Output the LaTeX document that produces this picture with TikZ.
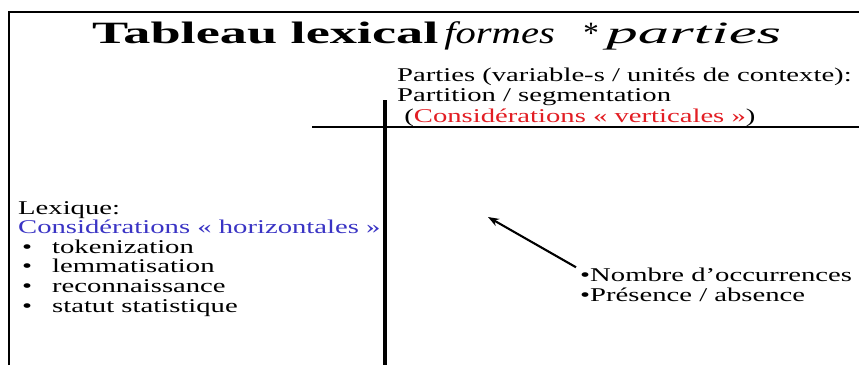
\documentclass[tikz,border=0pt]{standalone}
\usepackage{fontspec}
\setmainfont[FakeStretch=1.47]{Liberation Serif}
\newfontfamily\titlefont{Liberation Serif}
\usepackage{xcolor}
\usetikzlibrary{arrows.meta, positioning}

\definecolor{vertred}{RGB}{226,30,36}
\definecolor{horizblue}{RGB}{58,52,196}

\begin{document}
\begin{tikzpicture}[
  x=1pt, y=-1pt,
  txt/.style={inner sep=0pt, anchor=base west, align=left,
             font=\fontsize{19.5}{20.5}\selectfont},
  frame/.style={line width=2pt, black},
  axis/.style={line width=3.5pt, black},
  rule/.style={line width=2.4pt, black},
  arrow/.style={-{Stealth[length=11pt, width=8pt]}, line width=2.1pt}
]
\useasboundingbox (0,0) rectangle (859,365);
\draw[frame] (9,365) -- (9,12) -- (859,12);

\node[inner sep=0pt, anchor=base west, font=\titlefont\fontsize{31}{31}\selectfont] (title) at (92,43)
  {\scalebox{1.75}[1]{\textbf{Tableau lexical}}\hspace{6pt}%
   \scalebox{1.31}[1]{\textit{formes}}\hspace{27pt}%
   \textit{*}\hspace{9pt}\scalebox{2.03}[1]{\textit{parties}}};

% last line of each block sits on the given baseline
\node[txt] (parts) at (397,122) {%
  Parties (variable-s / unités de contexte):\\
  Partition / segmentation\\
  \ (\textcolor{vertred}{Considérations « verticales »})};

\node[txt, font=\fontsize{19.5}{19.6}\selectfont] (lex) at (18,312) {%
  Lexique:\\
  \textcolor{horizblue}{Considérations « horizontales »}\\
  \makebox[34pt][l]{\hspace{4pt}\textbullet}tokenization\\
  \makebox[34pt][l]{\hspace{4pt}\textbullet}lemmatisation\\
  \makebox[34pt][l]{\hspace{4pt}\textbullet}reconnaissance\\
  \makebox[34pt][l]{\hspace{4pt}\textbullet}statut statistique};

\node[txt, font=\fontsize{19.5}{20}\selectfont] (occ) at (580,301) {%
  \textbullet Nombre d’occurrences\\
  \textbullet Présence / absence};

\coordinate (cell) at (488,217);

% axes of the table
\draw[rule] (312,127) -- (859,127);
\draw[axis] (385,100) -- (385,365);

\draw[arrow] ([xshift=-4pt]occ.north west) -- (cell);
\end{tikzpicture}
\end{document}
